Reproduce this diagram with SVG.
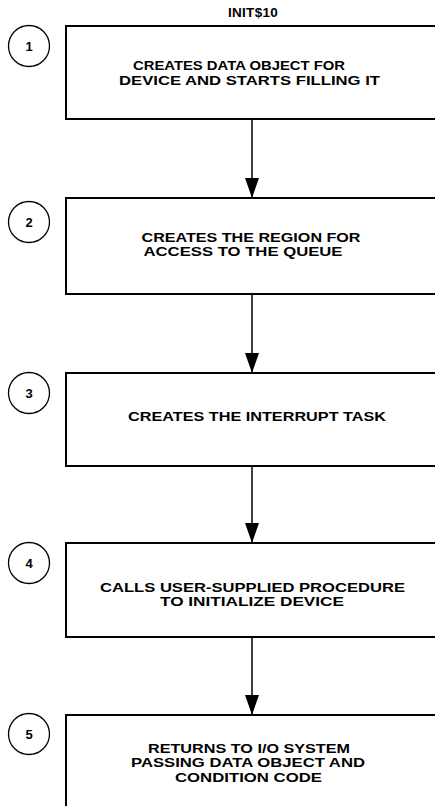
<svg xmlns="http://www.w3.org/2000/svg" width="435" height="806" viewBox="0 0 435 806">
  <style>
    .box { fill: #fff; stroke: #000; stroke-width: 2; }
    .num { fill: #fff; stroke: #000; stroke-width: 1.3; }
    .lbl { font-family: "Liberation Sans", Arial, sans-serif; font-weight: bold; font-size: 13px; fill: #000; text-anchor: middle; }
    .n { font-family: "Liberation Sans", Arial, sans-serif; font-weight: bold; font-size: 13px; fill: #000; text-anchor: middle; }
    .conn { stroke: #000; stroke-width: 1.5; fill: none; marker-end: url(#arrow); }
  </style>
  <defs>
    <!-- filled arrowhead, tip at the end of the connector -->
    <marker id="arrow" markerWidth="20" markerHeight="14" refX="20" refY="7" orient="auto" markerUnits="userSpaceOnUse" viewBox="0 0 20 14">
      <path d="M0,0 L20,7 L0,14 Z" fill="#000"/>
    </marker>
  </defs>
  <rect width="435" height="806" fill="#fff"/>

  <text class="n" x="253" y="17" style="font-size:13.5px;letter-spacing:0.3px">INIT$10</text>

  <g id="connectors">
    <line class="conn" x1="252" y1="119" x2="252" y2="198"/>
    <line class="conn" x1="252" y1="294" x2="252" y2="373"/>
    <line class="conn" x1="252" y1="466" x2="252" y2="543"/>
    <line class="conn" x1="252" y1="637" x2="252" y2="715"/>
  </g>

  <g id="step1">
    <circle class="num" cx="29" cy="46" r="20.5"/>
    <text class="n" x="29" y="51">1</text>
    <rect class="box" x="66" y="26" width="380" height="93"/>
    <text class="lbl" x="239" y="70" textLength="212" lengthAdjust="spacingAndGlyphs">CREATES DATA OBJECT FOR</text>
    <text class="lbl" x="249.5" y="84.5" textLength="261" lengthAdjust="spacingAndGlyphs">DEVICE AND STARTS FILLING IT</text>
  </g>

  <g id="step2">
    <circle class="num" cx="29" cy="222" r="20.5"/>
    <text class="n" x="29" y="227">2</text>
    <rect class="box" x="66" y="198" width="380" height="96"/>
    <text class="lbl" x="251" y="241.5" textLength="219" lengthAdjust="spacingAndGlyphs">CREATES THE REGION FOR</text>
    <text class="lbl" x="243" y="256" textLength="199" lengthAdjust="spacingAndGlyphs">ACCESS TO THE QUEUE</text>
  </g>

  <g id="step3">
    <circle class="num" cx="29" cy="393" r="20.5"/>
    <text class="n" x="29" y="398">3</text>
    <rect class="box" x="66" y="373" width="380" height="93"/>
    <text class="lbl" x="257" y="421" textLength="258" lengthAdjust="spacingAndGlyphs">CREATES THE INTERRUPT TASK</text>
  </g>

  <g id="step4">
    <circle class="num" cx="29" cy="563" r="20.5"/>
    <text class="n" x="29" y="568">4</text>
    <rect class="box" x="66" y="543" width="380" height="94"/>
    <text class="lbl" x="252.5" y="591.5" textLength="305" lengthAdjust="spacingAndGlyphs">CALLS USER-SUPPLIED PROCEDURE</text>
    <text class="lbl" x="252" y="606" textLength="184" lengthAdjust="spacingAndGlyphs">TO INITIALIZE DEVICE</text>
  </g>

  <g id="step5">
    <circle class="num" cx="29" cy="734" r="20.5"/>
    <text class="n" x="29" y="739">5</text>
    <rect class="box" x="66" y="715" width="380" height="110"/>
    <text class="lbl" x="249" y="752.5" textLength="202" lengthAdjust="spacingAndGlyphs">RETURNS TO I/O SYSTEM</text>
    <text class="lbl" x="248" y="767" textLength="234" lengthAdjust="spacingAndGlyphs">PASSING DATA OBJECT AND</text>
    <text class="lbl" x="248.5" y="781.5" textLength="147" lengthAdjust="spacingAndGlyphs">CONDITION CODE</text>
  </g>
</svg>
